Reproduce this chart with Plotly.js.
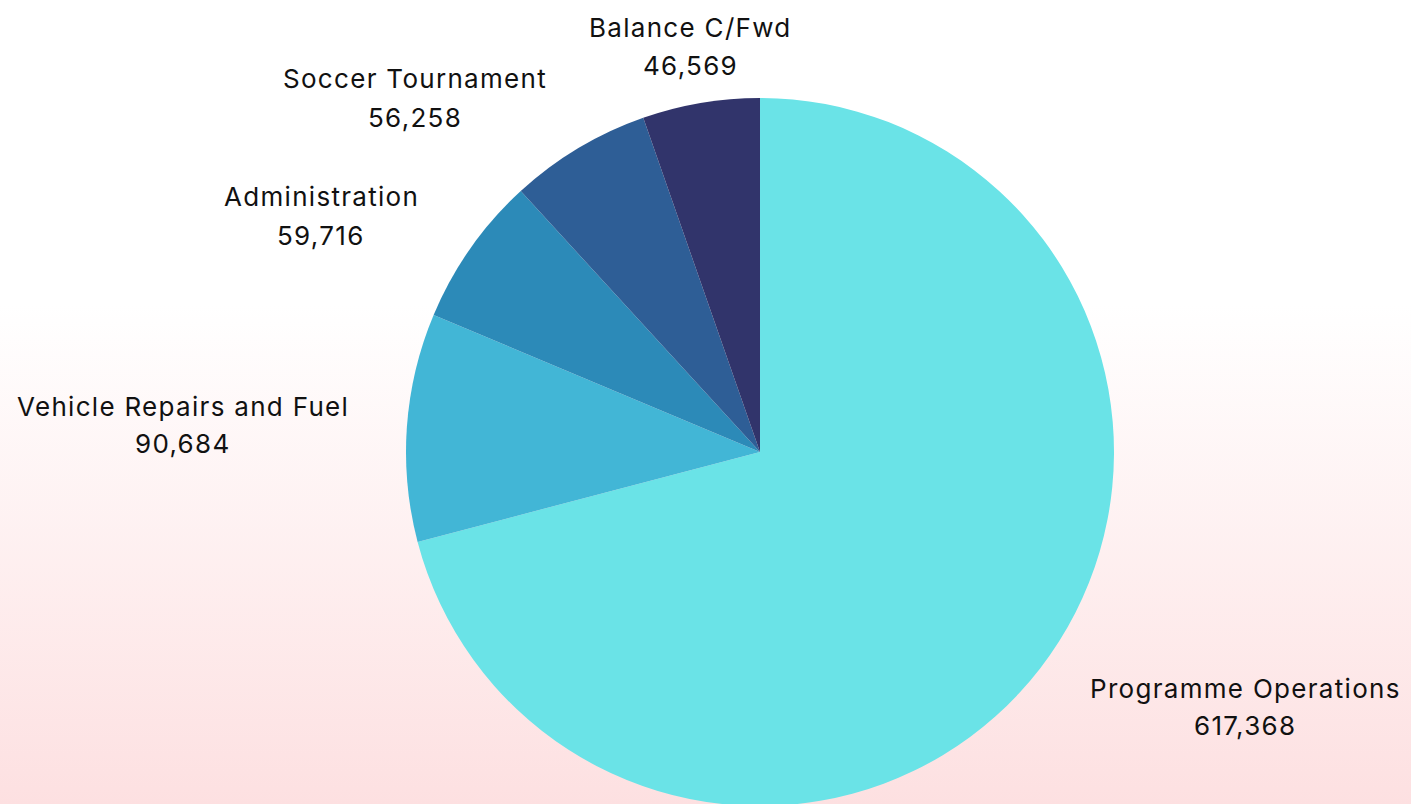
<!DOCTYPE html>
<html>
<head>
<meta charset="utf-8">
<script src="https://cdn.plot.ly/plotly-3.0.1.min.js"></script>
<style>
  html, body { margin: 0; padding: 0; width: 1411px; height: 804px; overflow: hidden;
    background: linear-gradient(to bottom, #ffffff 0%, #ffffff 38%, #fde0e1 100%); }
  #chart { width: 1411px; height: 812px; }
  .annotation-text { letter-spacing: 1.3px; }
</style>
</head>
<body>
<div id="chart"></div>
<script>
// Data
const categories = ["Programme Operations", "Vehicle Repairs and Fuel", "Administration", "Soccer Tournament", "Balance C/Fwd"];
const values = [617368, 90684, 59716, 56258, 46569];
const colors = ["#6ae3e7", "#42b6d6", "#2c8ab8", "#2e5e96", "#31346b"];

// Label placement (pixel centres of name / value lines)
const W = 1411, H = 812;
const labelPos = [
  {x: 1245, y1: 688, y2: 725},
  {x: 183,  y1: 406, y2: 443},
  {x: 321,  y1: 197, y2: 236},
  {x: 415,  y1: 79,  y2: 118},
  {x: 690,  y1: 27,  y2: 65}
];

const font = {family: "Inter, 'Noto Sans', sans-serif", size: 26, color: "#111111"};
const annotations = [];
categories.forEach((c, i) => {
  const p = labelPos[i];
  annotations.push({text: c, x: p.x / W, y: (H - p.y1) / H, xref: "paper", yref: "paper",
    showarrow: false, font: font, xanchor: "center", yanchor: "middle"});
  annotations.push({text: values[i].toLocaleString("en-US"), x: p.x / W, y: (H - p.y2) / H,
    xref: "paper", yref: "paper", showarrow: false, font: font, xanchor: "center", yanchor: "middle"});
});

const cx = 760, cy = 452, r = 354;
const trace = {
  type: "pie",
  labels: categories,
  values: values,
  marker: {colors: colors, line: {width: 0}},
  sort: false,
  direction: "clockwise",
  rotation: 0,
  textposition: "none",
  hoverinfo: "label+value",
  domain: {x: [(cx - r) / W, (cx + r) / W], y: [(H - cy - r) / H, (H - cy + r) / H]}
};

Plotly.newPlot("chart", [trace], {
  width: W, height: H,
  margin: {l: 0, r: 0, t: 0, b: 0},
  paper_bgcolor: "rgba(0,0,0,0)",
  plot_bgcolor: "rgba(0,0,0,0)",
  showlegend: false,
  annotations: annotations
}, {displayModeBar: false, staticPlot: true});
</script>
</body>
</html>
